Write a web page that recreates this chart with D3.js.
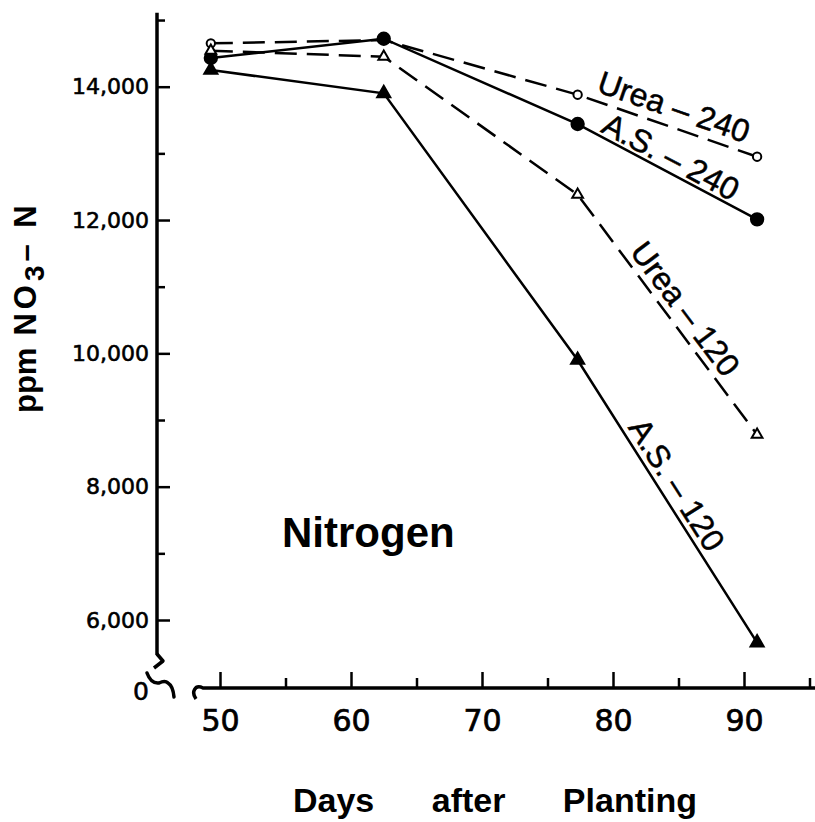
<!DOCTYPE html>
<html>
<head>
<meta charset="utf-8">
<script src="https://cdn.jsdelivr.net/npm/d3@7"></script>
<style>
  body { margin: 0; background: #fff; }
  svg { display: block; }
</style>
</head>
<body>
<div id="chart"></div>
<script>
// days after planting (sampling dates)
var days = [49.3, 62.5, 77.3, 91];
// ppm NO3-N for each treatment
var urea240 = [14650, 14700, 13880, 12950];
var as240   = [14430, 14720, 13440, 12010];
var urea120 = [14540, 14450, 12380, 8780];
var as120   = [14250, 13900, 9900, 5660];
var seriesLabels = ["Urea \u2013 240", "A.S. \u2013 240", "Urea \u2013 120", "A.S. \u2013 120"];

var yMajor = [6000, 8000, 10000, 12000, 14000];
var yMinor = [7000, 9000, 11000, 13000, 15000];
var xMajor = [50, 60, 70, 80, 90];
var xMinor = [55, 65, 75, 85, 95];

var W = 815, H = 822;
var axX = 157, axY = 688;

var svg = d3.select('#chart').append('svg')
  .attr('width', W).attr('height', H);
svg.append('rect').attr('width', W).attr('height', H).attr('fill', '#fff');

var x = d3.scaleLinear().domain([50, 90]).range([220, 744]);
var y = d3.scaleLinear().domain([6000, 14000]).range([620, 86.7]);

// ---- y axis ----
svg.append('line')
  .attr('x1', axX).attr('x2', axX)
  .attr('y1', y(15110)).attr('y2', 655)
  .attr('stroke', '#000').attr('stroke-width', 3.5);

var yAx = svg.append('g')
  .attr('transform', 'translate(' + axX + ',0)')
  .call(d3.axisLeft(y).tickValues(yMajor).tickSizeInner(-13).tickSizeOuter(0)
        .tickPadding(8).tickFormat(d3.format(',')));
var yAxMin = svg.append('g')
  .attr('transform', 'translate(' + axX + ',0)')
  .call(d3.axisLeft(y).tickValues(yMinor).tickSizeInner(-8).tickSizeOuter(0)
        .tickFormat(''));

// ---- x axis ----
svg.append('path')
  .attr('d', 'M' + (axX + 39) + ',' + (axY + 11) +
             ' C' + (axX + 34) + ',' + (axY + 4) + ' ' + (axX + 38) + ',' + (axY - 4) + ' ' + (axX + 46) + ',' + axY +
             ' L' + W + ',' + axY)
  .attr('fill', 'none').attr('stroke', '#000').attr('stroke-width', 3.5);

var xAx = svg.append('g')
  .attr('transform', 'translate(0,' + axY + ')')
  .call(d3.axisBottom(x).tickValues(xMajor).tickSizeInner(-16).tickSizeOuter(0)
        .tickPadding(22));
var xAxMin = svg.append('g')
  .attr('transform', 'translate(0,' + axY + ')')
  .call(d3.axisBottom(x).tickValues(xMinor).tickSizeInner(-10).tickSizeOuter(0)
        .tickFormat(''));

[yAx, yAxMin, xAx, xAxMin].forEach(function(g) {
  g.select('.domain').remove();
  g.selectAll('.tick line').attr('stroke', '#000').attr('stroke-width', 2.5);
});
yAx.selectAll('text')
  .attr('font-family', 'DejaVu Sans').attr('font-size', 22)
  .attr('fill', '#000').attr('stroke', '#000').attr('stroke-width', 0.6);
xAx.selectAll('text')
  .attr('font-family', 'DejaVu Sans').attr('font-size', 30)
  .attr('fill', '#000').attr('stroke', '#000').attr('stroke-width', 0.7);

// ---- axis break ----
svg.append('path')
  .attr('d', 'M' + axX + ',654 L' + (axX + 6) + ',661 L' + (axX - 3) + ',668')
  .attr('fill', 'none').attr('stroke', '#000').attr('stroke-width', 3.5)
  .attr('stroke-linejoin', 'round');
svg.append('path')
  .attr('d', 'M' + (axX - 10) + ',' + (axY - 15) +
             ' Q' + (axX - 6) + ',' + (axY - 4) + ' ' + (axX + 2) + ',' + (axY - 5) +
             ' Q' + (axX + 8) + ',' + (axY - 8) + ' ' + (axX + 11) + ',' + (axY - 5) +
             ' Q' + (axX + 16) + ',' + (axY - 2) + ' ' + (axX + 17) + ',' + (axY + 9))
  .attr('fill', 'none').attr('stroke', '#000').attr('stroke-width', 3.5)
  .attr('stroke-linecap', 'round');
svg.append('text')
  .attr('x', axX - 16).attr('y', axY + 3).attr('dy', '0.35em')
  .attr('text-anchor', 'middle')
  .attr('font-family', 'DejaVu Sans').attr('font-size', 25)
  .attr('stroke', '#000').attr('stroke-width', 0.6)
  .text('0');

// ---- series ----
var series = [
  { vals: urea240, dash: '22,10', sym: d3.symbolCircle, size: 55, fill: '#fff', off: [0, 20] },
  { vals: as240,   dash: null,    sym: d3.symbolCircle, size: 120, fill: '#000', off: [-4, 15] },
  { vals: urea120, dash: '22,10', sym: d3.symbolTriangle, size: 50, fill: '#fff', off: [6, 18] },
  { vals: as120,   dash: null,    sym: d3.symbolTriangle, size: 75, fill: '#000', off: [-9, 17] }
];

var line = d3.line()
  .x(function(d) { return x(d[0]); })
  .y(function(d) { return y(d[1]); });

series.forEach(function(s) {
  s.pts = days.map(function(d, i) { return [d, s.vals[i]]; });
  svg.append('path')
    .datum(s.pts)
    .attr('d', line)
    .attr('fill', 'none')
    .attr('stroke', '#000')
    .attr('stroke-width', 2.5)
    .attr('stroke-dasharray', s.dash);
});

series.forEach(function(s) {
  svg.selectAll(null)
    .data(s.pts)
    .enter().append('path')
    .attr('transform', function(d) { return 'translate(' + x(d[0]) + ',' + y(d[1]) + ')'; })
    .attr('d', d3.symbol().type(s.sym).size(s.size))
    .attr('fill', s.fill)
    .attr('stroke', '#000')
    .attr('stroke-width', 2);
});

// labels along the last segment of each line
series.forEach(function(s, i) {
  var p0 = s.pts[2], p1 = s.pts[3];
  var x0 = x(p0[0]), y0 = y(p0[1]), x1 = x(p1[0]), y1 = y(p1[1]);
  var len = Math.hypot(x1 - x0, y1 - y0);
  var ux = (x1 - x0) / len, uy = (y1 - y0) / len;
  var nx = uy, ny = -ux;
  var cx = (x0 + x1) / 2 + ux * s.off[0] + nx * s.off[1];
  var cy = (y0 + y1) / 2 + uy * s.off[0] + ny * s.off[1];
  var ang = Math.atan2(y1 - y0, x1 - x0) * 180 / Math.PI;
  svg.append('text')
    .attr('transform', 'translate(' + cx + ',' + cy + ') rotate(' + ang + ')')
    .attr('text-anchor', 'middle')
    .attr('dy', '0.35em')
    .attr('font-family', 'Liberation Sans')
    .attr('font-size', 32)
    .attr('stroke', '#000').attr('stroke-width', 0.5)
    .text(seriesLabels[i]);
});

// ---- titles ----
svg.append('text')
  .attr('x', 282).attr('y', 547)
  .attr('font-family', 'Liberation Sans').attr('font-weight', 'bold')
  .attr('font-size', 42)
  .text('Nitrogen');

svg.append('text')
  .attr('x', 293).attr('y', 812)
  .attr('font-family', 'Liberation Sans').attr('font-weight', 'bold')
  .attr('font-size', 34)
  .attr('word-spacing', 48)
  .text('Days after Planting');

var yt = svg.append('text')
  .attr('transform', 'translate(36,413) rotate(-90)')
  .attr('font-family', 'Liberation Sans').attr('font-weight', 'bold')
  .attr('font-size', 31);
yt.append('tspan').text('ppm');
yt.append('tspan').attr('dx', 12).attr('letter-spacing', 4).text('NO');
yt.append('tspan').attr('dy', 8).attr('font-size', 28).attr('letter-spacing', 4).text('3');
yt.append('tspan').attr('dy', -8).attr('letter-spacing', 4).text('\u2013 N');
</script>
</body>
</html>
